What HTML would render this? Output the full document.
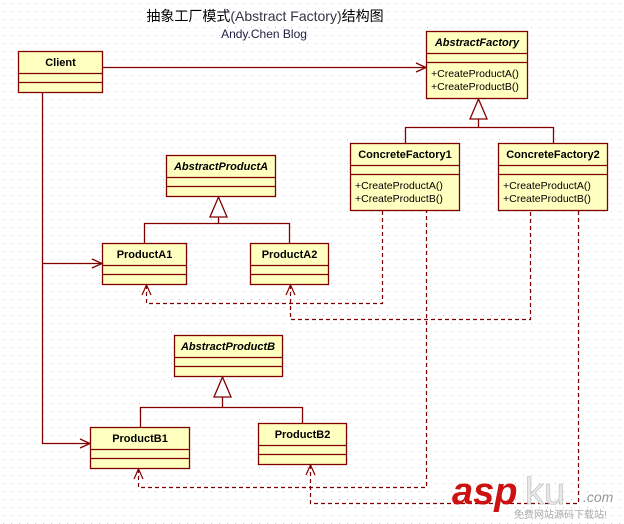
<!DOCTYPE html>
<html><head><meta charset="utf-8"><style>
html,body{margin:0;padding:0;background:#fff;}
svg{display:block;}
</style></head><body>
<svg width="624" height="524" xmlns="http://www.w3.org/2000/svg" font-family="Liberation Sans, DejaVu Sans, sans-serif">
<defs>
<pattern id="dots" width="8" height="8" patternUnits="userSpaceOnUse"><rect x="3" y="3" width="1" height="1" fill="#c8c8c8"/></pattern>
</defs>
<rect width="624" height="524" fill="#fff"/>
<rect width="624" height="524" fill="url(#dots)"/>
<text x="265" y="21" font-size="14" text-anchor="middle" font-family="Liberation Sans, Noto Sans CJK SC, sans-serif" fill="#000">抽象工厂模式<tspan fill="#334">(Abstract Factory)</tspan>结构图</text>
<text x="264" y="38" font-size="12" text-anchor="middle" fill="#224">Andy.Chen Blog</text>

<g stroke="#800000" stroke-width="1.3" fill="#ffffc0">
<!-- Client -->
<rect x="18.5" y="51.5" width="84" height="41"/>
<line x1="18.5" y1="73.5" x2="102.5" y2="73.5"/><line x1="18.5" y1="82.5" x2="102.5" y2="82.5"/>
<!-- AbstractFactory -->
<rect x="426.5" y="31.5" width="101" height="67"/>
<line x1="426.5" y1="53.5" x2="527.5" y2="53.5"/><line x1="426.5" y1="62.5" x2="527.5" y2="62.5"/>
<!-- CF1 -->
<rect x="350.5" y="143.5" width="109" height="67"/>
<line x1="350.5" y1="165.5" x2="459.5" y2="165.5"/><line x1="350.5" y1="174.5" x2="459.5" y2="174.5"/>
<!-- CF2 -->
<rect x="498.5" y="143.5" width="109" height="67"/>
<line x1="498.5" y1="165.5" x2="607.5" y2="165.5"/><line x1="498.5" y1="174.5" x2="607.5" y2="174.5"/>
<!-- APA -->
<rect x="166.5" y="155.5" width="109" height="41"/>
<line x1="166.5" y1="177.5" x2="275.5" y2="177.5"/><line x1="166.5" y1="186.5" x2="275.5" y2="186.5"/>
<!-- A1 -->
<rect x="102.5" y="243.5" width="84" height="41"/>
<line x1="102.5" y1="265.5" x2="186.5" y2="265.5"/><line x1="102.5" y1="274.5" x2="186.5" y2="274.5"/>
<!-- A2 -->
<rect x="250.5" y="243.5" width="78" height="41"/>
<line x1="250.5" y1="265.5" x2="328.5" y2="265.5"/><line x1="250.5" y1="274.5" x2="328.5" y2="274.5"/>
<!-- APB -->
<rect x="174.5" y="335.5" width="108" height="41"/>
<line x1="174.5" y1="357.5" x2="282.5" y2="357.5"/><line x1="174.5" y1="366.5" x2="282.5" y2="366.5"/>
<!-- B1 -->
<rect x="90.5" y="427.5" width="99" height="41"/>
<line x1="90.5" y1="449.5" x2="189.5" y2="449.5"/><line x1="90.5" y1="458.5" x2="189.5" y2="458.5"/>
<!-- B2 -->
<rect x="258.5" y="423.5" width="88" height="41"/>
<line x1="258.5" y1="445.5" x2="346.5" y2="445.5"/><line x1="258.5" y1="454.5" x2="346.5" y2="454.5"/>
</g>

<g stroke="#800000" stroke-width="1.3" fill="none">
<!-- client assoc -->
<line x1="102" y1="67.5" x2="426" y2="67.5"/>
<polyline points="416,63 426,67.5 416,72"/>
<polyline points="42.5,92 42.5,443.5 90,443.5"/>
<line x1="42.5" y1="263.5" x2="102" y2="263.5"/>
<polyline points="92,259 102,263.5 92,268"/>
<polyline points="80,439 90,443.5 80,448"/>
<!-- generalization -->
<polygon points="478.5,99 470,119 487,119" fill="#fff"/>
<polyline points="478.5,119 478.5,127.5"/>
<polyline points="405.5,143 405.5,127.5 553.5,127.5 553.5,143"/>
<polygon points="218.5,197 210,217 227,217" fill="#fff"/>
<line x1="218.5" y1="217" x2="218.5" y2="223.5"/>
<polyline points="144.5,243 144.5,223.5 289.5,223.5 289.5,243"/>
<polygon points="222.5,377 214,397 231,397" fill="#fff"/>
<line x1="222.5" y1="397" x2="222.5" y2="407.5"/>
<polyline points="140.5,427 140.5,407.5 302.5,407.5 302.5,423"/>
</g>

<g stroke="#800000" stroke-width="1.2" fill="none" stroke-dasharray="4,3">
<polyline points="146.5,285 146.5,303.5 382.5,303.5 382.5,211"/>
<polyline points="290.5,285 290.5,319.5 530.5,319.5 530.5,211"/>
<polyline points="138.5,469 138.5,487.5 426.5,487.5 426.5,211"/>
<polyline points="310.5,465 310.5,503.5 578.5,503.5 578.5,211"/>
</g>
<g stroke="#800000" stroke-width="1.2" fill="none">
<polyline points="142,295 146.5,285 151,295"/>
<polyline points="286,295 290.5,285 295,295"/>
<polyline points="134,479 138.5,469 143,479"/>
<polyline points="306,475 310.5,465 315,475"/>
</g>

<g font-size="11" fill="#000" text-anchor="middle" font-weight="bold">
<text x="60.5" y="66">Client</text>
<text x="477" y="46" font-style="italic">AbstractFactory</text>
<text x="405" y="158">ConcreteFactory1</text>
<text x="553" y="158">ConcreteFactory2</text>
<text x="221" y="170" font-style="italic">AbstractProductA</text>
<text x="144.5" y="258">ProductA1</text>
<text x="289.5" y="258">ProductA2</text>
<text x="228" y="350" font-style="italic">AbstractProductB</text>
<text x="140" y="442">ProductB1</text>
<text x="302.5" y="438">ProductB2</text>
</g>
<g font-size="10.5" fill="#000">
<text x="431" y="77">+CreateProductA()</text>
<text x="431" y="90">+CreateProductB()</text>
<text x="355" y="189">+CreateProductA()</text>
<text x="355" y="202">+CreateProductB()</text>
<text x="503" y="189">+CreateProductA()</text>
<text x="503" y="202">+CreateProductB()</text>
</g>
<!-- watermark -->
<text x="452" y="504" font-size="38" font-weight="bold" font-style="italic" fill="#cc1111">asp</text>
<text x="525" y="504" font-size="38" fill="#e8e8e8" stroke="#bbb" stroke-width="0.6">ku</text>
<text x="583" y="502" font-size="14" font-style="italic" fill="#999">.com</text>
<text x="514" y="518" font-size="10" fill="#aaa" font-family="Liberation Sans, Noto Sans CJK SC, sans-serif">免费网站源码下载站!</text>
</svg>
</body></html>
